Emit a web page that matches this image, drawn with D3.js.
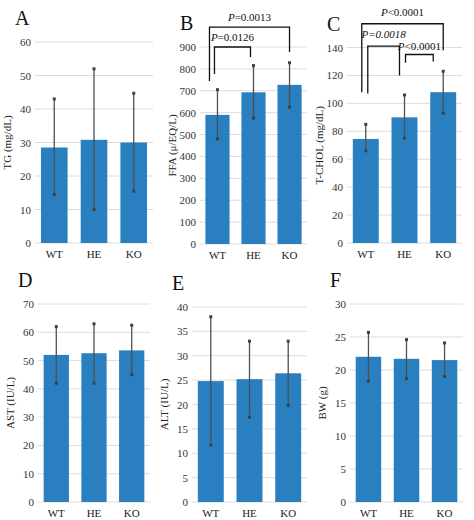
<!DOCTYPE html><html><head><meta charset="utf-8"><script src="https://cdn.jsdelivr.net/npm/d3@7"></script>
<style>body{margin:0;background:#fff}svg{font-family:"Liberation Serif",serif}</style></head><body><svg width="474" height="520"></svg><script>
const categories=["WT","HE","KO"];
const tgMean=[28.5,30.8,30.0], tgLo=[14.5,10,15.5], tgHi=[43,52,44.7];
const ffaMean=[590,693,727], ffaLo=[480,575,625], ffaHi=[705,815,828];
const cholMean=[74.5,90,108], cholLo=[66,75,93], cholHi=[85,106,123];
const astMean=[52,52.6,53.6], astLo=[42,42,45], astHi=[62,63,62.5];
const altMean=[24.8,25.2,26.4], altLo=[11.7,17.4,19.8], altHi=[38,33,33];
const bwMean=[22,21.7,21.5], bwLo=[18.3,18.7,19], bwHi=[25.7,24.6,24.1];
const panels=[
 {L:"A",lab:"TG (mg/dL)",m:tgMean,lo:tgLo,hi:tgHi,max:60,step:10,x0:35,x1:153,y0:243,yTop:42,sig:[]},
 {L:"B",lab:"FFA (μ/EQ/L)",m:ffaMean,lo:ffaLo,hi:ffaHi,max:900,step:100,x0:200,x1:307,y0:244,yTop:47,
  sig:[{a:0,b:2,top:991,la:745,lb:877,dxa:-8,dxb:0,t:"=0.0013",ty:-6},{a:0,b:1,top:900,la:777,lb:854,dxa:-3,dxb:-3,t:"=0.0126",ty:-6}]},
 {L:"C",lab:"T-CHOL (mg/dL)",m:cholMean,lo:cholLo,hi:cholHi,max:140,step:20,x0:347,x1:462,y0:243,yTop:47.5,
  sig:[{a:0,b:2,top:157,la:108,lb:138,dxa:-4,dxb:0,t:"<0.0001",ty:-8},{a:0,b:1,top:141,la:107,lb:120,dxa:2,dxb:-5,t:"=0.0018",ty:-8,it:true},{a:1,b:2,top:135,la:129,lb:130,dxa:1,dxb:-10,t:"<0.0001",ty:-4}]},
 {L:"D",lab:"AST (IU/L)",m:astMean,lo:astLo,hi:astHi,max:70,step:10,x0:38,x1:150,y0:502,yTop:304,sig:[]},
 {L:"E",lab:"ALT (IU/L)",m:altMean,lo:altLo,hi:altHi,max:40,step:5,x0:192,x1:307,y0:502,yTop:307,sig:[]},
 {L:"F",lab:"BW (g)",m:bwMean,lo:bwLo,hi:bwHi,max:30,step:5,x0:350,x1:463,y0:502,yTop:304,sig:[]}
];
const svg=d3.select("svg");
panels.forEach(p=>{
 const g=svg.append("g");
 const x=d3.scaleBand().domain(categories).range([p.x0,p.x1]).paddingInner(0.33).paddingOuter(0.15);
 const y=d3.scaleLinear().domain([0,p.max]).range([p.y0,p.yTop]);
 const ticks=d3.range(0,p.max+p.step/2,p.step);
 g.selectAll(".gl").data(ticks).join("line").attr("x1",p.x0).attr("x2",p.x1).attr("y1",d=>y(d)).attr("y2",d=>y(d)).attr("stroke","#dcdcdc").attr("stroke-width",1);
 g.selectAll(".tl").data(ticks).join("text").attr("x",p.x0-4).attr("y",d=>y(d)+4).attr("text-anchor","end").attr("font-size",11).attr("fill","#333").text(d=>d);
 g.selectAll(".xl").data(categories).join("text").attr("x",d=>x(d)+x.bandwidth()/2).attr("y",p.y0+15).attr("text-anchor","middle").attr("font-size",11).attr("fill","#222").text(d=>d);
 g.selectAll(".bar").data(p.m).join("rect").attr("x",(d,i)=>x(categories[i])).attr("width",x.bandwidth()).attr("y",d=>y(d)).attr("height",d=>y(0)-y(d)).attr("fill","#2a7fc0");
 p.m.forEach((d,i)=>{
  const cx=x(categories[i])+x.bandwidth()/2;
  g.append("line").attr("x1",cx).attr("x2",cx).attr("y1",y(p.lo[i])).attr("y2",y(p.hi[i])).attr("stroke","#505050").attr("stroke-width",1.3);
  [p.lo[i],p.hi[i]].forEach(v=>g.append("rect").attr("x",cx-1.5).attr("y",y(v)-1.5).attr("width",3).attr("height",3).attr("fill","#404040"));
 });
 g.append("text").attr("transform",`translate(${p.x0-24},${(p.y0+p.yTop)/2}) rotate(-90)`).attr("text-anchor","middle").attr("font-size",11).attr("fill","#222").text(p.lab);
 g.append("text").attr("x",p.x0-20).attr("y",p.yTop-17).attr("font-size",20).attr("fill","#111").text(p.L);
 p.sig.forEach(s=>{
  const xa=x(categories[s.a])+x.bandwidth()/2+s.dxa, xb=x(categories[s.b])+x.bandwidth()/2+s.dxb;
  g.append("path").attr("d",`M${xa},${y(s.la)}V${y(s.top)}H${xb}V${y(s.lb)}`).attr("fill","none").attr("stroke","#111").attr("stroke-width",1.3);
  const t=g.append("text").attr("x",(xa+xb)/2).attr("y",y(s.top)+s.ty).attr("text-anchor","middle").attr("font-size",11).attr("fill","#111");
  t.append("tspan").attr("font-style","italic").text("P");
  t.append("tspan").attr("font-style",s.it?"italic":"normal").text(s.t);
 });
});
</script></body></html>
